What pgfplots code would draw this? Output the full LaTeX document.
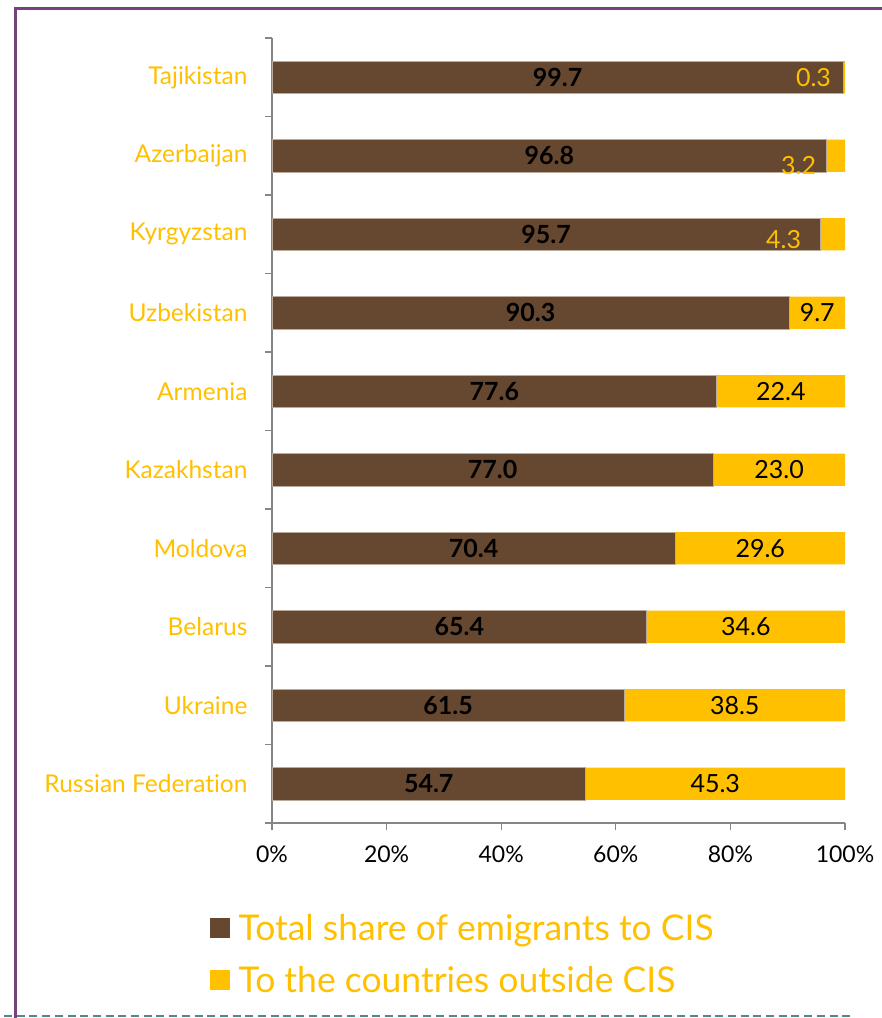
\documentclass[border=0pt]{standalone}
\usepackage{pgfplots}
\pgfplotsset{compat=1.18}
\usepackage{fontspec}
\setmainfont{Lato}[Ligatures=NoCommon]

\definecolor{cisbrown}{HTML}{66472F}
\definecolor{cisgold}{HTML}{FFC000}
\definecolor{frame}{HTML}{77407F}
\definecolor{teal}{HTML}{4F8A8B}
\definecolor{axisgrey}{HTML}{868686}

\begin{document}
\begin{tikzpicture}[x=1pt,y=1pt]
\path[use as bounding box] (0,0) rectangle (882,1018);
% slide frame
\draw[frame, line width=3pt] (15.5,0) -- (15.5,1009.5) -- (882,1009.5);
\draw[teal, line width=2pt, dash pattern=on 8pt off 4.7pt] (4,2) -- (852,2);

\begin{axis}[
  at={(272pt,195pt)}, anchor=south west,
  scale only axis, width=573pt, height=785pt,
  xbar stacked, bar width=0.41,
  xmin=0, xmax=100, ymin=-0.5, ymax=9.5,
  axis lines=left, axis line style={axisgrey, line width=1.4pt, -},
  xtick={0,20,...,100},
  xticklabel={\pgfmathprintnumber{\tick}\%},
  /pgf/number format/assume math mode=true,
  xticklabel style={font=\fontsize{23}{26}\selectfont, black, yshift=-12pt},
  ytick={0,...,9},
  yticklabels={Russian Federation, Ukraine, Belarus, Moldova, Kazakhstan,
    Armenia, Uzbekistan, Kyrgyzstan, Azerbaijan, Tajikistan},
  yticklabel style={font=\fontsize{24.5}{28}\selectfont, cisgold, xshift=-14pt},
  major y tick style={draw=none},
  minor ytick={-0.5,0.5,...,9.5},
  minor tick length=7pt, major tick length=7pt,
  tick align=outside,
  tick style={axisgrey, line width=1.2pt},
  legend style={at={(-0.108,-0.1135)}, anchor=north west, draw=none,
    fill=none, font=\fontsize{35.5}{40}\selectfont, text=cisgold,
    row sep=20pt, inner sep=0pt},
  legend cell align=left,
  legend image code/.code={\fill[#1, draw=none] (0pt,-10pt) rectangle (20pt,10pt);
    \path (26pt,0pt);},
]
\addplot[fill=cisbrown, draw={rgb,255:red,185;green,170;blue,155}, line width=0.6pt]
  coordinates {(54.7,0) (61.5,1) (65.4,2) (70.4,3) (77.0,4)
               (77.6,5) (90.3,6) (95.7,7) (96.8,8) (99.7,9)};
\addlegendentry{Total share of emigrants to CIS}
\addplot[fill=cisgold, draw=none]
  coordinates {(45.3,0) (38.5,1) (34.6,2) (29.6,3) (23.0,4)
               (22.4,5) (9.7,6) (4.3,7) (3.2,8) (0.3,9)};
\addlegendentry{To the countries outside CIS}
\end{axis}

% value labels, same frame as the bars
\begin{axis}[
  at={(272pt,195pt)}, anchor=south west,
  scale only axis, width=573pt, height=785pt,
  xmin=0, xmax=100, ymin=-0.5, ymax=9.5,
  hide axis, clip=false,
  nodes near coords, point meta=explicit symbolic,
  every node near coord/.append style={anchor=center, inner sep=0pt},
]
\addplot[only marks, mark=none, nodes near coords style={font=\fontsize{25}{28}\bfseries\selectfont, black}]
  coordinates {(27.35,0) [54.7] (30.75,1) [61.5] (32.7,2) [65.4] (35.2,3) [70.4]
               (38.5,4) [77.0] (38.8,5) [77.6] (45.15,6) [90.3] (47.85,7) [95.7]
               (48.4,8) [96.8] (49.85,9) [99.7]};
\addplot[only marks, mark=none, nodes near coords style={font=\fontsize{25}{28}\selectfont, black}]
  coordinates {(77.35,0) [45.3] (80.75,1) [38.5] (82.7,2) [34.6] (85.2,3) [29.6]
               (88.5,4) [23.0] (88.8,5) [22.4] (95.15,6) [9.7]};
\addplot[only marks, mark=none, nodes near coords style={font=\fontsize{25}{28}\selectfont, cisgold}]
  coordinates {(94.5,9) [0.3] (91.9,7.88) [3.2] (89.3,6.93) [4.3]};
\end{axis}
\end{tikzpicture}
\end{document}
